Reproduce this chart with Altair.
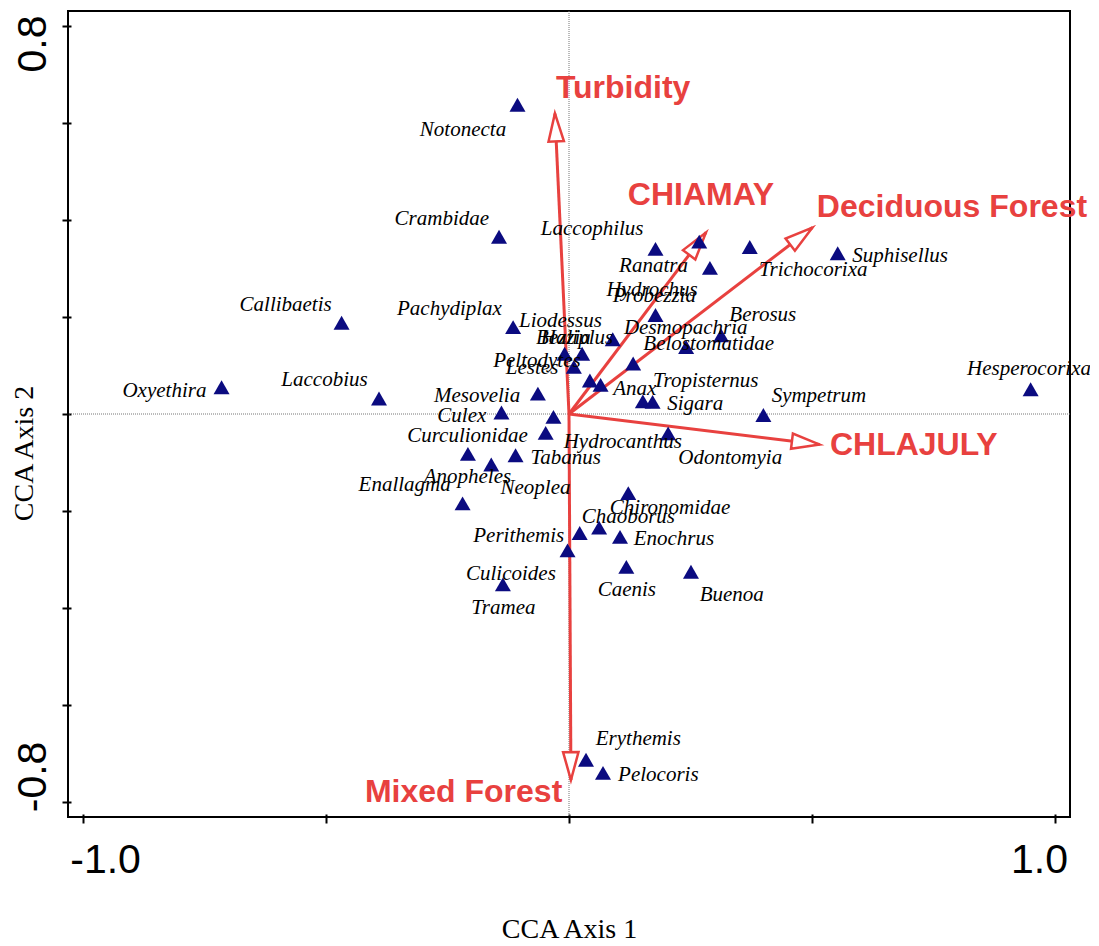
import altair as alt
import pandas as pd
import numpy as np

# ---- species scores (CCA axis 1, axis 2) ----
species = ["Notonecta", "Crambidae", "Laccophilus", "Hydrochus", "Trichocorixa", "Ranatra",
           "Suphisellus", "Callibaetis", "Liodessus", "Probezzia", "Berosus", "Haliplus",
           "Belostomatidae", "Bezzia", "Pachydiplax", "Lestes", "Desmopachria", "Peltodytes",
           "Anax", "Tropisternus", "Sigara", "Hesperocorixa", "Oxyethira", "Laccobius",
           "Mesovelia", "Culex", "Neoplea", "Hydrocanthus", "Sympetrum", "Odontomyia",
           "Curculionidae", "Anopheles", "Tabanus", "Enallagma", "Chironomidae", "Chaoborus",
           "Tramea", "Enochrus", "Perithemis", "Caenis", "Buenoa", "Culicoides",
           "Erythemis", "Pelocoris"]
sp_x = [-0.106, -0.144, 0.178, 0.268, 0.372, 0.290,
        0.553, -0.468, -0.115, 0.178, 0.313, 0.090,
        0.241, -0.009, 0.027, 0.010, 0.132, 0.043,
        0.065, 0.152, 0.172, 0.950, -0.715, -0.391,
        -0.064, -0.139, -0.032, -0.048, 0.400, 0.204,
        -0.208, -0.160, -0.110, -0.219, 0.122, 0.062,
        0.022, 0.105, -0.003, 0.118, 0.251, -0.136,
        0.035, 0.070]
sp_y = [0.637, 0.365, 0.340, 0.355, 0.344, 0.301,
        0.331, 0.188, 0.179, 0.204, 0.162, 0.154,
        0.138, 0.124, 0.124, 0.097, 0.104, 0.069,
        0.060, 0.026, 0.025, 0.051, 0.055, 0.032,
        0.042, 0.003, -0.006, -0.039, -0.002, -0.040,
        -0.082, -0.104, -0.085, -0.184, -0.163, -0.234,
        -0.245, -0.253, -0.281, -0.315, -0.325, -0.351,
        -0.712, -0.739]
# label anchor (left edge, baseline) in axis units
lab_x = [-0.307, -0.359, -0.058, 0.077, 0.391, 0.103,
         0.583, -0.678, -0.103, 0.090, 0.330, -0.058,
         0.153, -0.068, -0.354, -0.130, 0.113, -0.156,
         0.091, 0.173, 0.202, 0.819, -0.919, -0.592,
         -0.278, -0.271, -0.141, -0.011, 0.417, 0.225,
         -0.333, -0.299, -0.079, -0.433, 0.084, 0.026,
         -0.201, 0.133, -0.197, 0.059, 0.269, -0.212,
         0.055, 0.101]
lab_y = [0.572, 0.390, 0.368, 0.242, 0.285, 0.293,
         0.313, 0.213, 0.180, 0.230, 0.191, 0.145,
         0.131, 0.145, 0.203, 0.083, 0.165, 0.097,
         0.040, 0.055, 0.008, 0.080, 0.035, 0.057,
         0.025, -0.017, -0.165, -0.069, 0.025, -0.102,
         -0.058, -0.143, -0.104, -0.159, -0.205, -0.224,
         -0.411, -0.270, -0.264, -0.375, -0.385, -0.342,
         -0.682, -0.756]

# ---- environmental arrows ----
env = ["Turbidity", "CHIAMAY", "Deciduous Forest", "CHLAJULY", "Mixed Forest"]
env_x = [-0.029, 0.282, 0.501, 0.516, 0.004]
env_y = [0.619, 0.374, 0.384, -0.063, -0.754]
env_lab_x = [-0.027, 0.121, 0.510, 0.537, -0.420]
env_lab_y = [0.651, 0.430, 0.405, -0.085, -0.799]

x_ticks = [-1.0, -0.5, 0.0, 0.5, 1.0]
x_tick_labels = ["-1.0", "", "", "", "1.0"]
y_ticks = [-0.8, -0.6, -0.4, -0.2, 0.0, 0.2, 0.4, 0.6, 0.8]
y_tick_labels = ["-0.8", "", "", "", "", "", "", "", "0.8"]

X_DOM = [-1.031, 1.031]
Y_DOM = [-0.83, 0.83]

RED = "#e8413f"
NAVY = "#0b0b80"


def label_expr(vals, labs):
    expr = "''"
    for v, l in zip(vals, labs):
        if l:
            expr = f"abs(datum.value - ({v})) < 1e-6 ? '{l}' : ({expr})"
    return expr


sp = pd.DataFrame({"name": species, "x": sp_x, "y": sp_y, "lx": lab_x, "ly": lab_y})
ev = pd.DataFrame({"name": env, "x": env_x, "y": env_y, "lx": env_lab_x, "ly": env_lab_y})
ev["x0"] = 0.0
ev["y0"] = 0.0
ev["ang"] = (np.degrees(np.arctan2(ev["x"], ev["y"])) + 360.0) % 360.0
zero = pd.DataFrame({"v": [0.0]})

xs = alt.Scale(domain=X_DOM, nice=False, zero=False)
ys = alt.Scale(domain=Y_DOM, nice=False, zero=False)

x_axis = alt.Axis(
    values=x_ticks, labelExpr=label_expr(x_ticks, x_tick_labels), grid=False, domain=False,
    offset=-3, tickSize=9, tickWidth=2, tickColor="black",
    labelFont="Liberation Sans", labelFontSize=41, labelColor="black",
    labelBaseline="alphabetic", labelAlign="center", labelPadding=49, labelFlush=False,
    labelOverlap=False, labelOffset={"expr": "datum.value < 0 ? 22 : -16"},
    title="CCA Axis 1", titleFont="Liberation Serif", titleFontSize=28, titleFontWeight="normal",
    titleColor="black", titleBaseline="alphabetic", titleY=123,
)
y_axis = alt.Axis(
    values=y_ticks, labelExpr=label_expr(y_ticks, y_tick_labels), grid=False, domain=False,
    offset=-3, tickSize=9, tickWidth=2, tickColor="black",
    labelFont="Liberation Sans", labelFontSize=41, labelColor="black", labelAngle=270,
    labelBaseline="alphabetic", labelAlign="center", labelPadding=17, labelFlush=False,
    labelOverlap=False, labelOffset={"expr": "datum.value > 0 ? 18 : -26"},
    title="CCA Axis 2", titleFont="Liberation Serif", titleFontSize=28, titleFontWeight="normal",
    titleColor="black", titleAngle=270, titleAlign="center", titleBaseline="alphabetic",
    titleX=-39, titleY=442,
)

vline = alt.Chart(zero).mark_rule(color="#777777", strokeWidth=1, strokeDash=[1, 1]).encode(
    x=alt.X("v:Q", scale=xs, axis=x_axis))
hline = alt.Chart(zero).mark_rule(color="#777777", strokeWidth=1, strokeDash=[1, 1]).encode(
    y=alt.Y("v:Q", scale=ys, axis=y_axis))

arrows = alt.Chart(ev).mark_rule(color=RED, strokeWidth=3).encode(
    x=alt.X("x0:Q", scale=xs), y=alt.Y("y0:Q", scale=ys), x2="x:Q", y2="y:Q")

heads = alt.Chart(ev).mark_point(
    shape="M0,0L0.55,2L-0.55,2Z", size=784, filled=True, fill="white", stroke=RED,
    strokeWidth=2.5, opacity=1).encode(
    x=alt.X("x:Q", scale=xs), y=alt.Y("y:Q", scale=ys), angle=alt.Angle("ang:Q", scale=None))

pts = alt.Chart(sp).mark_point(shape="triangle-up", size=256, filled=True, color=NAVY, opacity=1).encode(
    x=alt.X("x:Q", scale=xs), y=alt.Y("y:Q", scale=ys))

sp_text = alt.Chart(sp).mark_text(
    font="Liberation Serif", fontStyle="italic", fontSize=21, color="black",
    align="left", baseline="alphabetic").encode(
    x=alt.X("lx:Q", scale=xs), y=alt.Y("ly:Q", scale=ys), text="name:N")

env_text = alt.Chart(ev).mark_text(
    font="Liberation Sans", fontWeight="bold", fontSize=32, color=RED,
    align="left", baseline="alphabetic").encode(
    x=alt.X("lx:Q", scale=xs), y=alt.Y("ly:Q", scale=ys), text="name:N")

chart = alt.layer(vline, hline, arrows, heads, pts, sp_text, env_text).properties(
    width=1002, height=806,
    autosize=alt.AutoSizeParams(type="none"),
    padding={"left": 60, "top": 3, "right": 20, "bottom": 121},
    background="white",
).configure_view(stroke="black", strokeWidth=2)

chart.save("out.html", embed_options={"renderer": "svg", "actions": False})
